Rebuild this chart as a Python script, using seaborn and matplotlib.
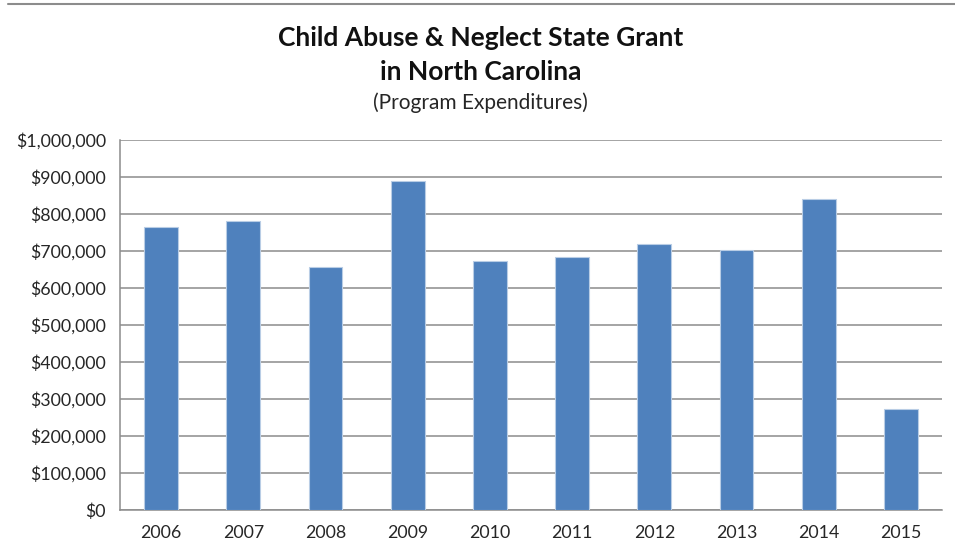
import matplotlib
matplotlib.use("Agg")
import matplotlib.pyplot as plt
from matplotlib.lines import Line2D
from matplotlib.ticker import FuncFormatter, MultipleLocator
import seaborn as sns
import pandas as pd

years = ["2006", "2007", "2008", "2009", "2010", "2011", "2012", "2013", "2014", "2015"]
expenditures = [764000, 781000, 656000, 888000, 672000, 684000, 718000, 702000, 841000, 273000]

sns.set_theme(style="white")
plt.rcParams["font.family"] = ["Lato", "DejaVu Sans"]

df = pd.DataFrame({"year": years, "amount": expenditures})

fig = plt.figure(figsize=(9.55, 5.58), dpi=100)
ax = fig.add_axes([120 / 955, 1 - 510 / 558, (942 - 120) / 955, (510 - 140) / 558])

sns.barplot(data=df, x="year", y="amount", color="#4F81BD", saturation=1,
            width=0.41, edgecolor="#B9CDE5", linewidth=0.8, ax=ax, zorder=3)

ax.set_ylim(0, 1_000_000)
ax.yaxis.set_major_locator(MultipleLocator(100_000))
ax.yaxis.set_major_formatter(FuncFormatter(lambda v, _: f"${v:,.0f}"))
ax.grid(axis="y", color="#8C8C8C", linewidth=1.1, zorder=0)
ax.set_axisbelow(True)
ax.set_xlabel("")
ax.set_ylabel("")

for side in ["top", "right"]:
    ax.spines[side].set_visible(False)
for side in ["left", "bottom"]:
    ax.spines[side].set_color("#8C8C8C")
    ax.spines[side].set_linewidth(1.1)

ax.tick_params(axis="y", labelsize=12.8, colors="#262626", pad=10, length=0)
ax.tick_params(axis="x", labelsize=12.8, colors="#262626", pad=11, length=0)

fig.text(0.503, 1 - 38 / 558, "Child Abuse & Neglect State Grant", ha="center", va="center",
         fontsize=19, fontweight="bold", color="#111111")
fig.text(0.503, 1 - 72 / 558, "in North Carolina", ha="center", va="center",
         fontsize=19, fontweight="bold", color="#111111")
fig.text(0.503, 1 - 103 / 558, "(Program Expenditures)", ha="center", va="center",
         fontsize=15, color="#262626")

fig.add_artist(Line2D([8 / 955, 1], [1 - 4 / 558, 1 - 4 / 558], color="#8C8C8C",
                      linewidth=1.5, transform=fig.transFigure))

fig.savefig("out.png", dpi=100, facecolor="white")
